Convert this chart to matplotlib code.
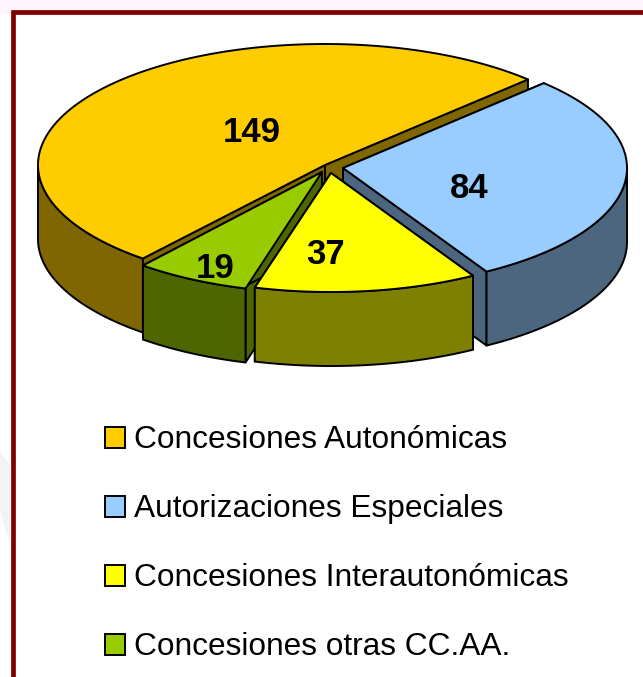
import numpy as np
import matplotlib
matplotlib.use('Agg')
import matplotlib.pyplot as plt
from matplotlib.patches import Patch, Polygon, Rectangle

labels = ['Concesiones Autonómicas', 'Autorizaciones Especiales',
          'Concesiones Interautonómicas', 'Concesiones otras CC.AA.']
values = [149, 84, 37, 19]
top_colors = ['#FFCC00', '#99CCFF', '#FFFF00', '#99CC00']
side_colors = ['#806600', '#4D6680', '#808000', '#4D6600']

# geometry of each exploded slice, in pixels (y goes down)
centers = [(325, 165), (343, 168), (331, 173), (322, 172)]
radii = [(287, 121), (284, 120), (281, 119), (282, 121)]
depth = 74
start_angle = 230.6  # slices run clockwise from here
text_pos = [(252, 132), (469, 189), (326, 254), (215, 268)]
draw_order = [0, 1, 3, 2]

plt.rcParams['font.family'] = ['Liberation Sans', 'DejaVu Sans']
fig = plt.figure(figsize=(6.43, 6.77), dpi=100)
ax = fig.add_axes([0, 0, 1, 1])
ax.set_xlim(0, 643)
ax.set_ylim(677, 0)
ax.axis('off')

# page behind the chart
ax.add_patch(Rectangle((0, 0), 643, 9.5, fc='#FFF5FF', ec='none'))
ax.add_patch(Rectangle((0, 9.5), 11, 4, fc='#FFF5FF', ec='none'))
ax.add_patch(Polygon([(0, 452), (10, 465), (10, 541), (5, 530), (0, 508)],
                     fc='#F3F3F3', ec='none'))
ax.plot([13, 13, 643], [677, 11.5, 11.5], color='#800000', lw=3.4,
        solid_joinstyle='miter', solid_capstyle='butt')


def rim(c, r, a0, a1):
    a = np.radians(np.linspace(a0, a1, 120))
    return np.column_stack([c[0] + r[0] * np.cos(a), c[1] - r[1] * np.sin(a)])


sweeps = 360 * np.array(values) / sum(values)
edges = start_angle - np.cumsum(sweeps)
edge_kw = dict(ec='black', lw=1.4, joinstyle='round')

for i in draw_order:
    c, r = centers[i], radii[i]
    a0 = edges[i] % 360
    a1 = a0 + sweeps[i]
    down = np.array([0, depth])
    # cut faces
    for a in (a1, a0):
        p = rim(c, r, a, a)[0]
        ax.add_patch(Polygon([c, p, p + down, np.array(c) + down],
                             fc=side_colors[i], **edge_kw))
    # outer wall, only the front half of the ellipse shows
    f0, f1 = max(a0, 180), min(a1, 360)
    if f1 > f0:
        arc = rim(c, r, f0, f1)
        ax.add_patch(Polygon(np.vstack([arc, (arc + down)[::-1]]),
                             fc=side_colors[i], **edge_kw))
    ax.add_patch(Polygon(np.vstack([[c], rim(c, r, a0, a1)]),
                         fc=top_colors[i], **edge_kw))
    ax.text(text_pos[i][0], text_pos[i][1], str(values[i]), fontsize=25,
            fontweight='bold', ha='center', va='center', color='black')

handles = [Patch(fc=col, ec='black', lw=1.4) for col in top_colors]
ax.legend(handles, labels, loc='upper left', bbox_to_anchor=(95 / 643, 1 - 416 / 677),
          frameon=False, fontsize=22.8, labelspacing=1.23, handlelength=0.66,
          handleheight=0.66, handletextpad=0.28, borderpad=0.3, borderaxespad=0)

plt.savefig('out.png', dpi=100)
